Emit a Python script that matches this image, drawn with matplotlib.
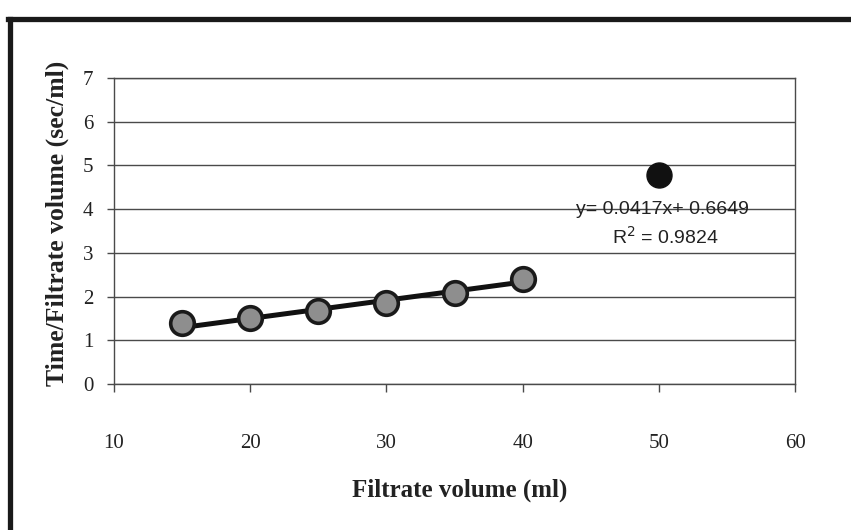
#!/usr/bin/env python3

import numpy as np
import matplotlib as mpl
mpl.use('Agg')
import matplotlib.pyplot as plt
from matplotlib.lines import Line2D

# data
vol = [15, 20, 25, 30, 35, 40]
t_per_v = [1.40, 1.51, 1.67, 1.85, 2.09, 2.41]
outlier_x = [50]
outlier_y = [4.78]

slope, intercept = 0.0417, 0.6649
r2 = 0.9824

x_ticks = [10, 20, 30, 40, 50, 60]
y_ticks = [0, 1, 2, 3, 4, 5, 6, 7]

serif = ['Liberation Serif', 'DejaVu Serif']
sans = ['Liberation Sans', 'DejaVu Sans']

fig = plt.figure(figsize=(8.51, 5.30), dpi=100)
fig.patch.set_facecolor('white')

ax = fig.add_axes([114/851, 1-384/530, (795-114)/851, (384-78)/530])

# trendline from the chart's own equation
xl = np.array([vol[0], vol[-1]])
ax.plot(xl, slope*xl + intercept, color='#111111', lw=3.6, zorder=3,
        solid_capstyle='round')
ax.plot(vol, t_per_v, ls='none', marker='o', markersize=17,
        markerfacecolor='#8e8e8e', markeredgecolor='#1a1a1a',
        markeredgewidth=2.6, zorder=4)
ax.plot(outlier_x, outlier_y, ls='none', marker='o', markersize=18,
        markerfacecolor='#111111', markeredgecolor='#111111', zorder=4)

ax.text(50.3, 3.99, f'y= {slope}x+ {intercept}', fontsize=14, family=sans,
        ha='center', va='center', color='#222222')
ax.text(50.5, 3.37, f'R$^2$ = {r2}', fontsize=14, family=sans,
        ha='center', va='center', color='#222222')

ax.set_xlim(10, 60)
ax.set_ylim(0, 7)
ax.set_xticks(x_ticks)
ax.set_yticks(y_ticks)
ax.yaxis.grid(True, color='#4a4a4a', lw=1.0)
ax.set_axisbelow(True)

for side in ['top', 'right', 'bottom', 'left']:
    ax.spines[side].set_color('#4a4a4a')
    ax.spines[side].set_linewidth(1.0)
ax.spines['left'].set_linestyle((0, (4, 1)))

ax.tick_params(axis='x', direction='out', length=6, width=1, color='#4a4a4a',
               pad=30, labelsize=15)
ax.tick_params(axis='y', direction='out', length=5, width=1, color='#4a4a4a',
               pad=10, labelsize=15)
for lab in ax.get_xticklabels() + ax.get_yticklabels():
    lab.set_family(serif)
    lab.set_color('#222222')

ax.set_xlabel('Filtrate volume (ml)', fontsize=18, fontweight='bold',
              family=serif, color='#222222')
ax.set_ylabel('Time/Filtrate volume (sec/ml)', fontsize=18.5, fontweight='bold',
              family=serif, color='#222222')
ax.xaxis.set_label_coords(0.507, -0.31)
ax.yaxis.set_label_coords(-0.066, 0.526)

# thick frame of the page
fig.add_artist(Line2D([8/851, 1], [1-19/530, 1-19/530], color='#1a1a1a', lw=3.8,
                      transform=fig.transFigure))
fig.add_artist(Line2D([10/851, 10/851], [0, 1-19/530], color='#1a1a1a', lw=3.8,
                      transform=fig.transFigure))

fig.savefig('out.png', dpi=100)
